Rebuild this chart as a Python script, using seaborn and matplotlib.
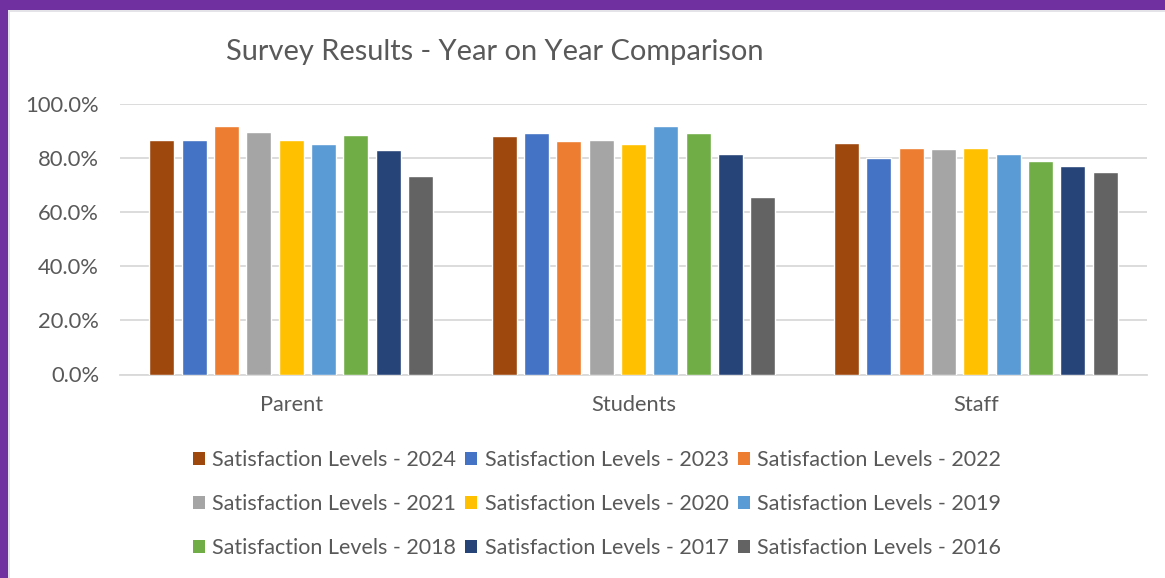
import matplotlib
matplotlib.use("Agg")
import matplotlib.pyplot as plt
import matplotlib.patches as mpatches
from matplotlib.ticker import FuncFormatter
import seaborn as sns
import pandas as pd

# ---- data ----
categories = ["Parent", "Students", "Staff"]
series = ["Satisfaction Levels - 2024", "Satisfaction Levels - 2023", "Satisfaction Levels - 2022",
          "Satisfaction Levels - 2021", "Satisfaction Levels - 2020", "Satisfaction Levels - 2019",
          "Satisfaction Levels - 2018", "Satisfaction Levels - 2017", "Satisfaction Levels - 2016"]
v2024 = [0.866, 0.883, 0.856]
v2023 = [0.868, 0.893, 0.801]
v2022 = [0.917, 0.863, 0.838]
v2021 = [0.898, 0.868, 0.833]
v2020 = [0.868, 0.853, 0.838]
v2019 = [0.852, 0.920, 0.814]
v2018 = [0.885, 0.893, 0.789]
v2017 = [0.829, 0.816, 0.772]
v2016 = [0.734, 0.656, 0.750]
all_vals = [v2024, v2023, v2022, v2021, v2020, v2019, v2018, v2017, v2016]
colors = ["#9E480E", "#4472C4", "#ED7D31", "#A5A5A5", "#FFC000",
          "#5B9BD5", "#70AD47", "#264478", "#636363"]
title = "Survey Results - Year on Year Comparison"

rows = []
for s, vals in zip(series, all_vals):
    for c, v in zip(categories, vals):
        rows.append({"group": c, "series": s, "value": v})
df = pd.DataFrame(rows)

sns.set_theme(style="white")
plt.rcParams["font.family"] = ["Lato", "DejaVu Sans"]
txt = "#595959"

W, H = 1165, 578
fig = plt.figure(figsize=(W / 100, H / 100), dpi=100)
ax = fig.add_axes([120 / W, 1 - 374.5 / H, (1147 - 120) / W, (374.5 - 104) / H])

sns.barplot(data=df, x="group", y="value", hue="series", hue_order=series,
            order=categories, palette=colors, width=0.85, gap=0.22,
            saturation=1, errorbar=None, ax=ax, legend=False, zorder=3)

ax.set_ylim(0, 1.0)
ax.set_yticks([0, 0.2, 0.4, 0.6, 0.8, 1.0])
ax.yaxis.set_major_formatter(FuncFormatter(lambda v, p: f"{v*100:.1f}%"))
ax.set_xlabel("")
ax.set_ylabel("")
ax.grid(axis="y", color="#D9D9D9", linewidth=1.3, zorder=0)
ax.set_axisbelow(True)
for sp in ["top", "right", "left"]:
    ax.spines[sp].set_visible(False)
ax.spines["bottom"].set_color("#D9D9D9")
ax.spines["bottom"].set_linewidth(1.3)
ax.tick_params(axis="y", length=0, pad=15, labelsize=15.8, labelcolor=txt)
ax.tick_params(axis="x", length=0, pad=14.5, labelsize=15.7, labelcolor=txt)

fig.text(495 / W, 1 - 52 / H, title, ha="center", va="center",
         fontsize=20.9, color=txt)

# legend, row-major order
handles = [mpatches.Patch(facecolor=c, edgecolor="none") for c in colors]
order = [0, 3, 6, 1, 4, 7, 2, 5, 8]
leg = fig.legend([handles[i] for i in order], [series[i] for i in order],
                 ncol=3, loc="center", bbox_to_anchor=(597 / W, 1 - 504 / H),
                 frameon=False, fontsize=15.5, labelcolor=txt,
                 handlelength=0.56, handleheight=0.56, handletextpad=0.33,
                 columnspacing=0.45, labelspacing=1.12)

# purple frame (left and top)
fig.patches.append(mpatches.Rectangle((0, 0), 8 / W, 1, transform=fig.transFigure,
                                      facecolor="#7030A0", edgecolor="none", zorder=10))
fig.patches.append(mpatches.Rectangle((0, 1 - 10 / H), 1, 10 / H, transform=fig.transFigure,
                                      facecolor="#7030A0", edgecolor="none", zorder=10))
fig.patches.append(mpatches.Rectangle((8 / W, 0), 2 / W, 1 - 10 / H, transform=fig.transFigure,
                                      facecolor="#E4E4E8", edgecolor="none", zorder=9))
fig.patches.append(mpatches.Rectangle((8 / W, 1 - 12 / H), 1, 2 / H, transform=fig.transFigure,
                                      facecolor="#E4E4E8", edgecolor="none", zorder=9))

fig.savefig("out.png", dpi=100)
